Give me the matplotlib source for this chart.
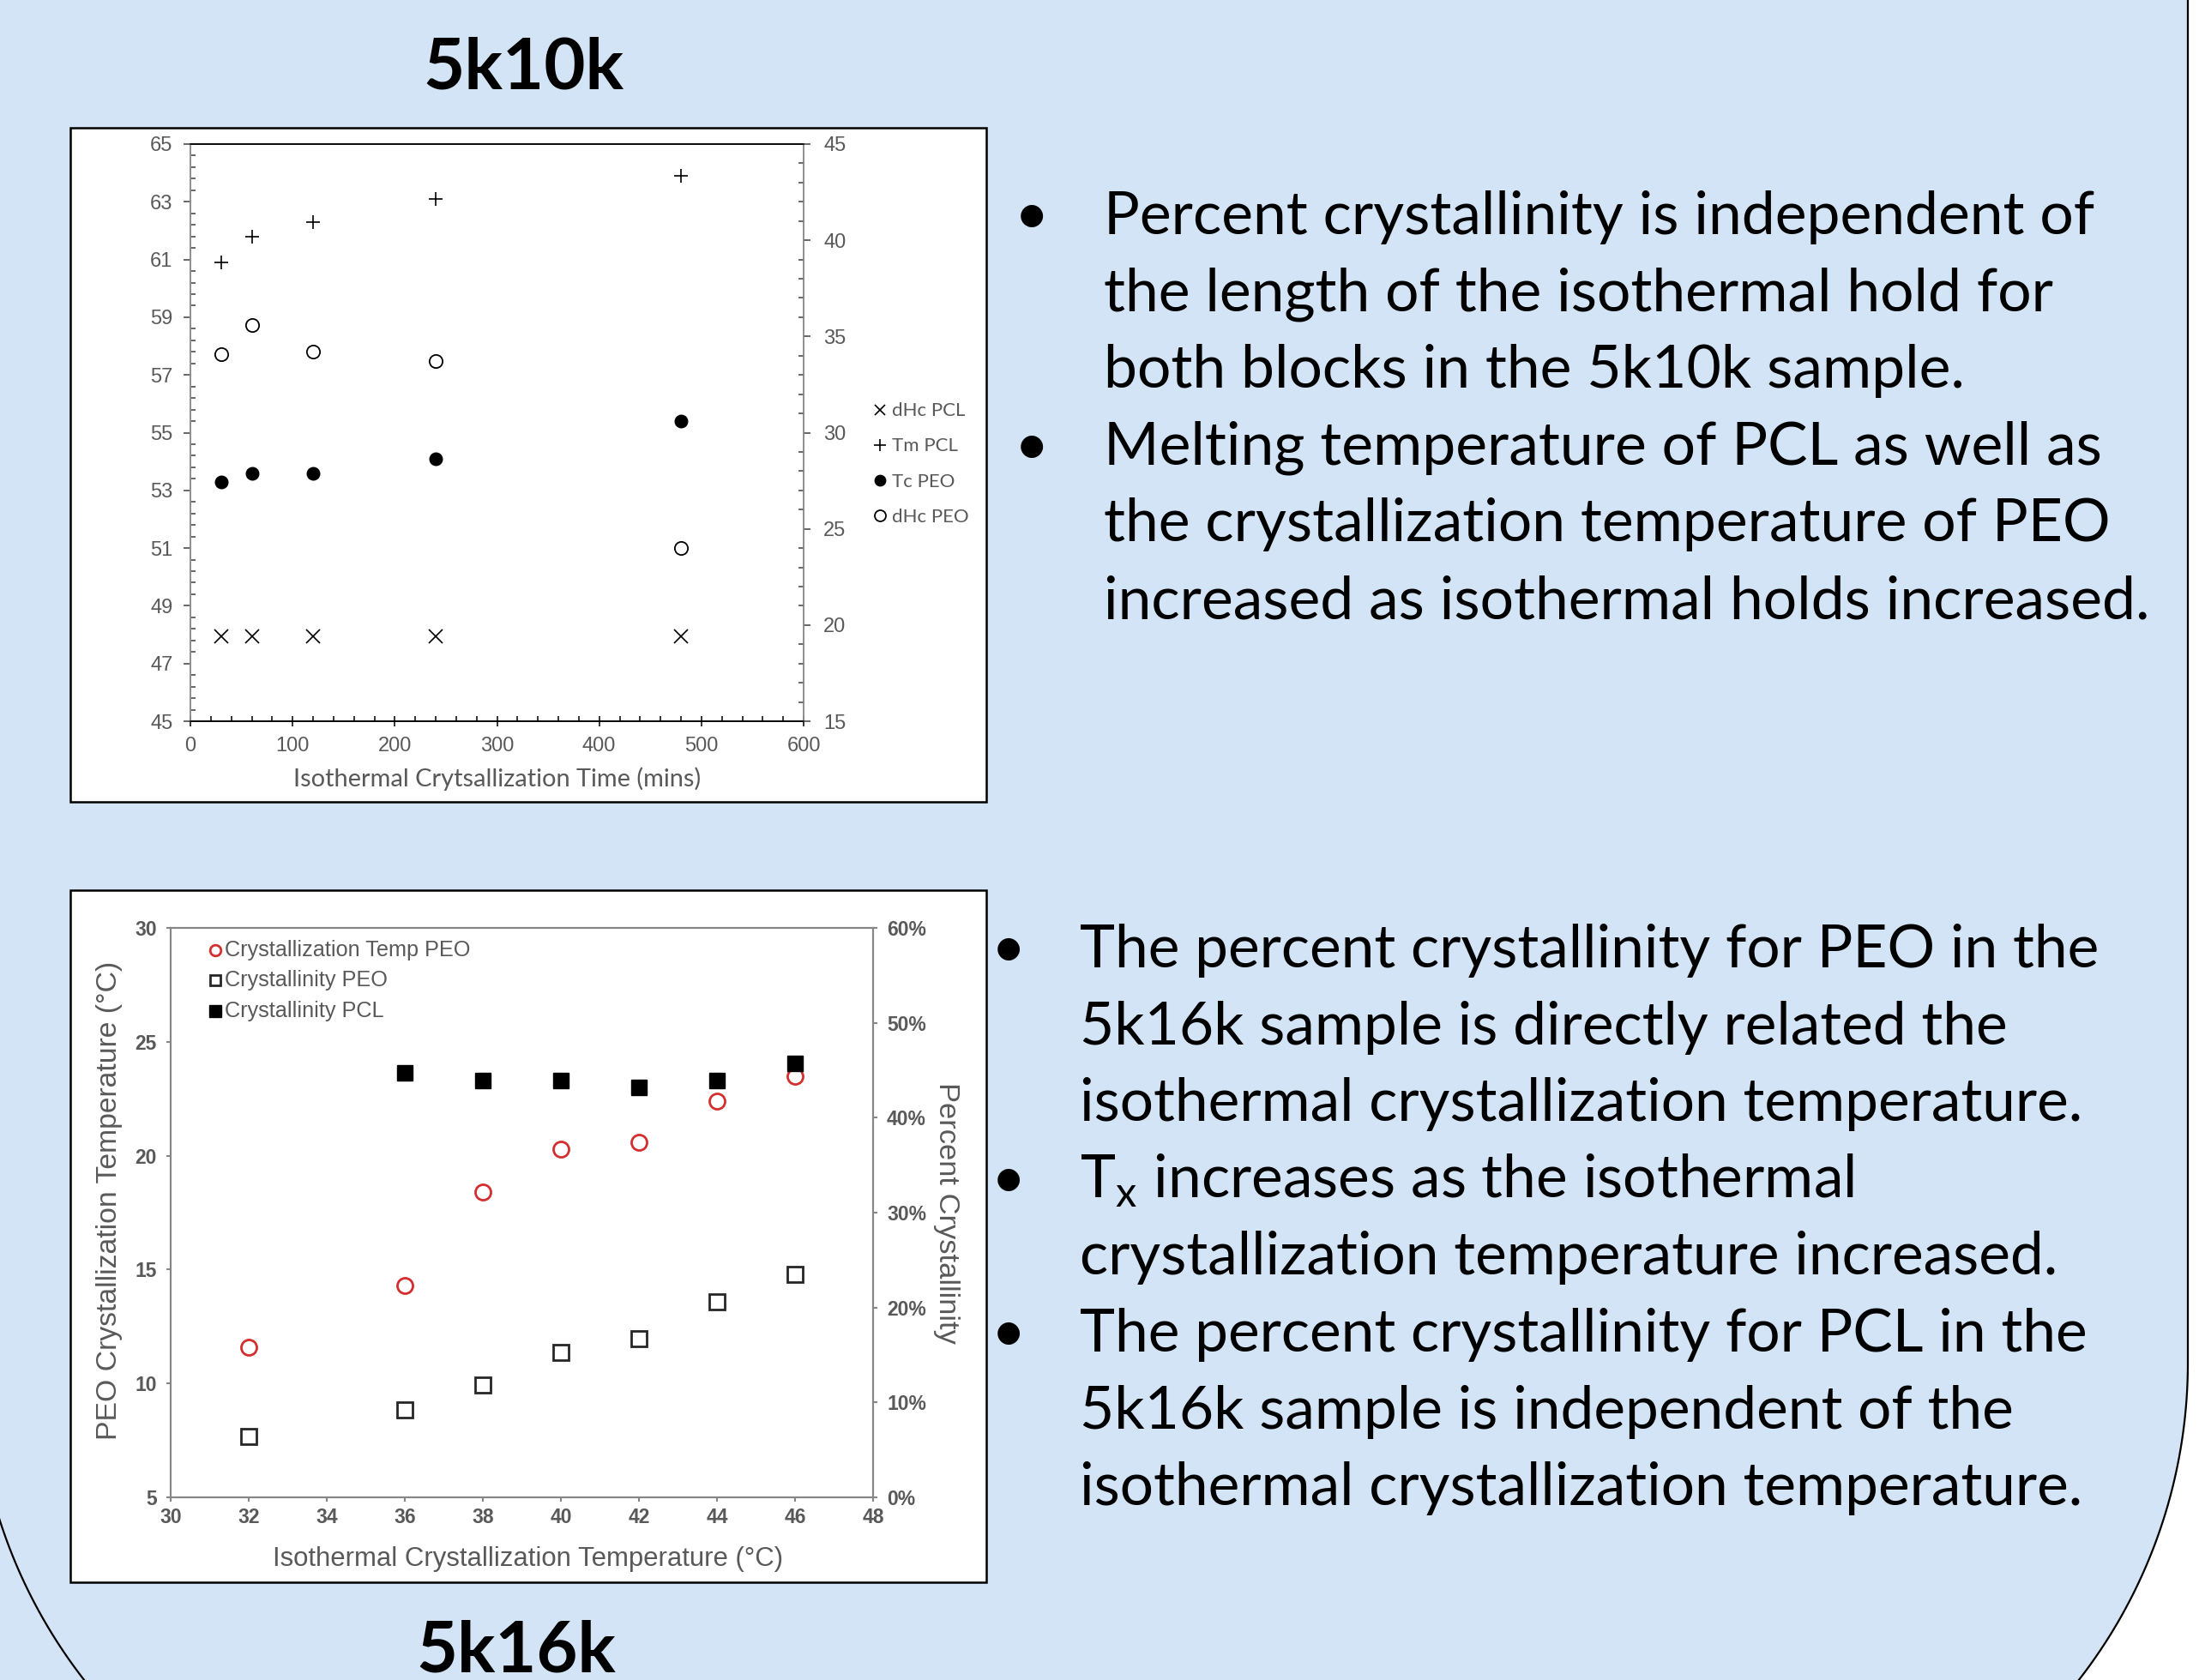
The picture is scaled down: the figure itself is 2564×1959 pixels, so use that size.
import numpy as np
import matplotlib
matplotlib.use("Agg")
import matplotlib.pyplot as plt
from matplotlib.patches import Rectangle, Polygon
from matplotlib.ticker import MultipleLocator, FuncFormatter

W, H = 2564, 1959

# 5k10k: isothermal hold time series
hold_time = [30, 60, 120, 240, 480]
tm_pcl = [60.9, 61.8, 62.3, 63.1, 63.9]
tc_peo = [53.3, 53.6, 53.6, 54.1, 55.4]
dhc_pcl = [19.4, 19.4, 19.4, 19.4, 19.4]
dhc_peo = [34.1, 35.6, 34.2, 33.7, 24.0]

# 5k16k: isothermal crystallization temperature series
iso_temp = [32, 36, 38, 40, 42, 44, 46]
tx_peo = [11.6, 14.3, 18.4, 20.3, 20.6, 22.4, 23.5]
xc_peo = [6.4, 9.2, 11.8, 15.3, 16.7, 20.6, 23.5]
pcl_temp = [36, 38, 40, 42, 44, 46]
xc_pcl = [44.7, 43.9, 43.9, 43.2, 43.9, 45.7]

left_ticks_10k = [45, 47, 49, 51, 53, 55, 57, 59, 61, 63, 65]

top_bullets = [
    ["Percent crystallinity is independent of",
     "the length of the isothermal hold for",
     "both blocks in the 5k10k sample."],
    ["Melting temperature of PCL as well as",
     "the crystallization temperature of PEO",
     "increased as isothermal holds increased."],
]
bottom_bullets = [
    ["The percent crystallinity for PEO in the",
     "5k16k sample is directly related the",
     "isothermal crystallization temperature."],
    [r"T$_\mathregular{x}$ increases as the isothermal",
     "crystallization temperature increased."],
    ["The percent crystallinity for PCL in the",
     "5k16k sample is independent of the",
     "isothermal crystallization temperature."],
]

BODY = "Lato"
ARIAL = "Liberation Sans"
GREY = "#595959"

fig = plt.figure(figsize=(W / 100, H / 100), dpi=100)
fig.patch.set_facecolor("#d2e4f5")

# page layer in pixel coordinates
bg = fig.add_axes([0, 0, 1, 1], zorder=0)
bg.set_xlim(0, W)
bg.set_ylim(H, 0)
bg.axis("off")

# rounded slide outline, white outside on the right
r = 602
yc = 1589
t = np.linspace(0, np.arcsin((H - yc) / r), 60)
rx = (2551 - r) + r * np.cos(t)
ry = yc + r * np.sin(t)
edge = np.column_stack([np.r_[2551, rx], np.r_[0, ry]])
bg.add_patch(Polygon(np.vstack([edge, [[W, H], [W, 0]]]), closed=True,
                     fc="white", ec="none"))
bg.plot(edge[:, 0], edge[:, 1], color="black", lw=1.6)
lx = (-29 + r) - r * np.cos(t)
bg.plot(lx, ry, color="black", lw=1.6)

# white chart panels
for y0, y1 in [(149, 935), (1038, 1845)]:
    bg.add_patch(Rectangle((82, y0), 1150 - 82, y1 - y0, fc="white",
                           ec="black", lw=1.8))

renderer = fig.canvas.get_renderer()


def fit(txt, width):
    w = txt.get_window_extent(renderer).width
    txt.set_fontsize(txt.get_fontsize() * width / w)
    return txt.get_fontsize()


def axes_px(x0, x1, y0, y1):
    return [x0 / W, 1 - y1 / H, (x1 - x0) / W, (y1 - y0) / H]


# headings
h1 = bg.text(610, 103, "5k10k", family=BODY, weight="bold", fontsize=60,
             ha="center", va="baseline")
fit(h1, 234)
h2 = bg.text(602, 1950, "5k16k", family=BODY, weight="bold", fontsize=60,
             ha="center", va="baseline")
fit(h2, 233)


def bullet_block(groups, bx, tx, y0, step, ref, ref_w):
    made = []
    lines = []
    y = y0
    for g in groups:
        made.append(bg.text(bx, y, "\u2022", family=BODY, fontsize=40,
                            ha="center", va="baseline"))
        for s in g:
            tl = bg.text(tx, y, s, family=BODY, fontsize=40, ha="left",
                         va="baseline")
            lines.append(tl)
            made.append(tl)
            y += step
    fs = fit(lines[ref], ref_w)
    for tl in made:
        tl.set_fontsize(fs)


bullet_block(top_bullets, 1203, 1287, 273, 89.6, 5, 1220)
bullet_block(bottom_bullets, 1176, 1259, 1128, 89.6, 7, 1172)

# ---- 5k10k chart ----
ax1 = fig.add_axes(axes_px(222, 937, 168, 841), zorder=2)
ax1.set_facecolor("none")
ax1b = ax1.twinx()
ax1.set_xlim(0, 600)
ax1.set_ylim(45, 65)
ax1b.set_ylim(15, 45)

h_a, = ax1b.plot(hold_time, dhc_pcl, "x", color="black", ms=11, mew=1.2,
                 label="dHc PCL")
h_b, = ax1.plot(hold_time, tm_pcl, "+", color="black", ms=11.5, mew=1.2,
                label="Tm PCL")
h_c, = ax1.plot(hold_time, tc_peo, "o", color="black", ms=10.5,
                label="Tc PEO")
h_d, = ax1b.plot(hold_time, dhc_peo, "o", mfc="white", mec="black", ms=11,
                 mew=1.3, label="dHc PEO")

ax1.xaxis.set_major_locator(MultipleLocator(100))
ax1.xaxis.set_minor_locator(MultipleLocator(20))
ax1.set_yticks(left_ticks_10k)
ax1.set_yticks(np.linspace(45, 65, 51), minor=True)
ax1b.yaxis.set_major_locator(MultipleLocator(5))
ax1b.yaxis.set_minor_locator(MultipleLocator(1))

ax1.tick_params(axis="x", which="major", direction="inout", length=8.5,
                width=1.1, pad=9)
ax1.tick_params(axis="x", which="minor", direction="in", length=4.3,
                width=1.1)
ax1.tick_params(axis="y", which="major", direction="out", length=5.8,
                width=1.1, pad=9, color="#404040")
ax1.tick_params(axis="y", which="minor", direction="in", length=4,
                width=1.1, color="#404040")
ax1b.tick_params(axis="y", which="major", direction="out", length=5.8,
                 width=1.1, pad=11, color="#404040")
ax1b.tick_params(axis="y", which="minor", direction="in", length=4,
                 width=1.1, color="#404040")
for a in (ax1, ax1b):
    a.tick_params(which="both", labelsize=17, labelcolor=GREY)
    for lab in a.get_xticklabels() + a.get_yticklabels():
        lab.set_family(ARIAL)
    a.spines["left"].set_color("#8c8c8c")
    a.spines["right"].set_color("#8c8c8c")
    a.spines["bottom"].set_color("black")
    a.spines["top"].set_color("black")
    for sp in a.spines.values():
        sp.set_linewidth(1.1)

xl = ax1.set_xlabel("Isothermal Crytsallization Time (mins)", family=BODY,
                    color=GREY, fontsize=20, va="center")
ax1.xaxis.set_label_coords(0.5007, -0.0996)
fit(xl, 476)

leg1 = ax1.legend(handles=[h_a, h_b, h_c, h_d], loc="center left",
                  bbox_to_anchor=(1018 / W, 1 - 541 / H),
                  bbox_transform=fig.transFigure, frameon=False,
                  prop={"family": BODY, "size": 16}, labelcolor=GREY,
                  handlelength=0.7, handletextpad=0.3, labelspacing=0.95,
                  borderpad=0, borderaxespad=0, markerscale=0.85)

# ---- 5k16k chart ----
ax2 = fig.add_axes(axes_px(199, 1018, 1082, 1746), zorder=2)
ax2.set_facecolor("none")
ax2b = ax2.twinx()
ax2.set_xlim(30, 48)
ax2.set_ylim(5, 30)
ax2b.set_ylim(0, 60)

g_a, = ax2.plot(iso_temp, tx_peo, "o", mfc="white", mec="#d42f2f", ms=13,
                mew=2.0, label="Crystallization Temp PEO")
g_b, = ax2b.plot(iso_temp, xc_peo, "s", mfc="white", mec="#262626", ms=13,
                 mew=2.0, label="Crystallinity PEO")
g_c, = ax2b.plot(pcl_temp, xc_pcl, "s", color="black", ms=13.5,
                 label="Crystallinity PCL")

ax2.xaxis.set_major_locator(MultipleLocator(2))
ax2.yaxis.set_major_locator(MultipleLocator(5))
ax2b.yaxis.set_major_locator(MultipleLocator(10))
ax2b.yaxis.set_major_formatter(FuncFormatter(lambda v, p: f"{v:.0f}%"))
for a in (ax2, ax2b):
    a.tick_params(which="major", direction="out", length=3.6, width=1.5,
                  color="#868686", labelsize=16.5, labelcolor=GREY, pad=8)
    for lab in a.get_xticklabels() + a.get_yticklabels():
        lab.set_family(ARIAL)
        lab.set_weight("bold")
    for sp in a.spines.values():
        sp.set_color("#868686")
        sp.set_linewidth(1.5)
ax2.tick_params(axis="x", pad=5)

yl = ax2.set_ylabel("PEO Crystallization Temperature (°C)", family=ARIAL,
                    color=GREY, fontsize=20, va="center")
ax2.yaxis.set_label_coords((128 - 199) / 819, (1746 - 1400) / 664)
fit_h = yl.get_window_extent(renderer).height
yl.set_fontsize(yl.get_fontsize() * 559 / fit_h)

yr = ax2b.set_ylabel("Percent Crystallinity", family=ARIAL, color=GREY,
                     fontsize=20, rotation=270, va="center")
ax2b.yaxis.set_label_coords((1103 - 199) / 819, 0.5)
fit_h = yr.get_window_extent(renderer).height
yr.set_fontsize(yr.get_fontsize() * 304 / fit_h)

xl2 = ax2.set_xlabel("Isothermal Crystallization Temperature (°C)",
                     family=ARIAL, color=GREY, fontsize=20, va="center")
ax2.xaxis.set_label_coords((615 - 199) / 819, (1746 - 1818) / 664)
fit(xl2, 594)

leg2 = ax2.legend(handles=[g_a, g_b, g_c], loc="upper left",
                  bbox_to_anchor=(245 / W, 1 - 1096 / H),
                  bbox_transform=fig.transFigure, frameon=False,
                  prop={"family": ARIAL, "size": 15}, labelcolor=GREY,
                  handlelength=0.6, handletextpad=0.2, labelspacing=0.55,
                  borderpad=0, borderaxespad=0, markerscale=0.7)
fit(leg2.get_texts()[0], 286)
for tl in leg2.get_texts()[1:]:
    tl.set_fontsize(leg2.get_texts()[0].get_fontsize())

fig.savefig("out.png", dpi=100)
